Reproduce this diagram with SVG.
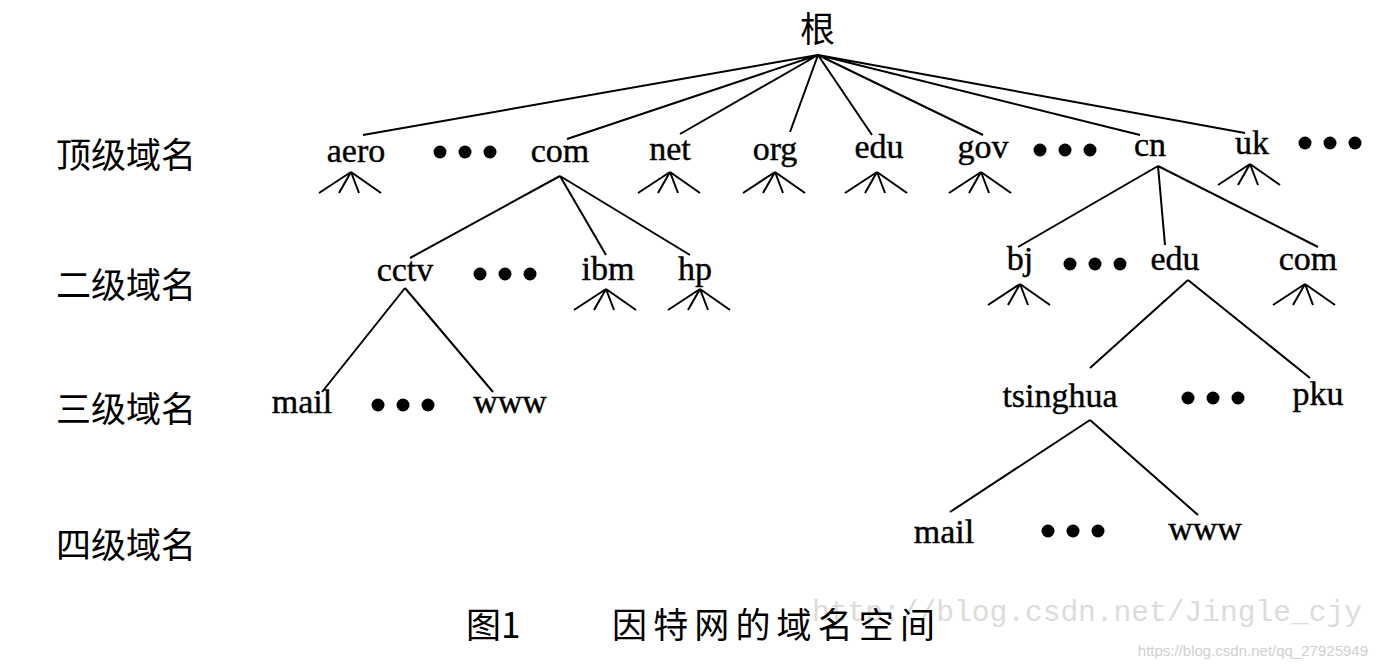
<svg xmlns="http://www.w3.org/2000/svg" width="1378" height="664" viewBox="0 0 1378 664">
<style>
.t{font-family:"Liberation Serif",serif;font-size:34px;fill:#000;text-anchor:middle;stroke:#000;stroke-width:0.4}
.c{font-family:"Noto Sans CJK SC",sans-serif;font-size:35px;fill:#000}
.l{stroke:#000;stroke-width:2;fill:none}
.d{fill:#000}
</style>
<defs>
<g id="fan" class="l"><path d="M0,0L-32,21M0,0L-12,21M0,0L8,21M0,0L30,21"/></g>
<g id="dots" class="d"><circle cx="0" cy="0" r="6.5"/><circle cx="25" cy="0" r="6.5"/><circle cx="50" cy="0" r="6.5"/></g>
</defs>
<rect width="1378" height="664" fill="#fff"/>
<g id="labels">
<text class="c" x="56" y="168">顶级域名</text>
<text class="c" x="56" y="298">二级域名</text>
<text class="c" x="56" y="422">三级域名</text>
<text class="c" x="56" y="558">四级域名</text>
</g>
<g id="connectors" class="l">
<path d="M818,55L363,135M818,55L567,139M818,55L680,134M818,55L790,132M818,55L872,135M818,55L983,135M818,55L1140,135M818,55L1245,133"/>
<path d="M560,176L410,258M560,176L606,255M560,176L690,255"/>
<path d="M405,288L322,392M405,288L493,392"/>
<path d="M1158,166L1018,247M1158,166L1165,245M1158,166L1318,247"/>
<path d="M1188,280L1090,368M1188,280L1310,378"/>
<path d="M1090,420L950,512M1090,420L1198,515"/>
</g>
<g id="fans">
<use href="#fan" x="351" y="172"/>
<use href="#fan" x="670" y="172"/>
<use href="#fan" x="775" y="172"/>
<use href="#fan" x="877" y="172"/>
<use href="#fan" x="981" y="172"/>
<use href="#fan" x="1250" y="164"/>
<use href="#fan" x="606" y="289"/>
<use href="#fan" x="700" y="289"/>
<use href="#fan" x="1020" y="284"/>
<use href="#fan" x="1305" y="284"/>
</g>
<g id="dotgroups">
<use href="#dots" x="440" y="152"/>
<use href="#dots" x="1040" y="150"/>
<use href="#dots" x="1305" y="143"/>
<use href="#dots" x="480" y="274"/>
<use href="#dots" x="1070" y="264"/>
<use href="#dots" x="378" y="405"/>
<use href="#dots" x="1188" y="398"/>
<use href="#dots" x="1048" y="531"/>
</g>
<g id="n-root"><text class="c" x="800" y="42">根</text></g>
<g id="n-aero"><text class="t" x="356" y="162">aero</text></g>
<g id="n-com"><text class="t" x="560" y="162">com</text></g>
<g id="n-net"><text class="t" x="670" y="160">net</text></g>
<g id="n-org"><text class="t" x="775" y="160">org</text></g>
<g id="n-edu"><text class="t" x="879" y="158">edu</text></g>
<g id="n-gov"><text class="t" x="983" y="158">gov</text></g>
<g id="n-cn"><text class="t" x="1150" y="156">cn</text></g>
<g id="n-uk"><text class="t" x="1252" y="154">uk</text></g>
<g id="n-cctv"><text class="t" x="405" y="281">cctv</text></g>
<g id="n-ibm"><text class="t" x="608" y="280">ibm</text></g>
<g id="n-hp"><text class="t" x="695" y="280">hp</text></g>
<g id="n-bj"><text class="t" x="1020" y="270">bj</text></g>
<g id="n-edu2"><text class="t" x="1175" y="270">edu</text></g>
<g id="n-com2"><text class="t" x="1308" y="270">com</text></g>
<g id="n-mail1"><text class="t" x="302" y="413">mail</text></g>
<g id="n-www1"><text class="t" x="510" y="413">www</text></g>
<g id="n-tsinghua"><text class="t" x="1060" y="407">tsinghua</text></g>
<g id="n-pku"><text class="t" x="1318" y="405">pku</text></g>
<g id="n-mail2"><text class="t" x="944" y="543">mail</text></g>
<g id="n-www2"><text class="t" x="1205" y="540">www</text></g>
<g id="caption">
<text font-family="'Liberation Mono',monospace" font-size="29" fill="#dcdcd8" x="812" y="621" textLength="550" lengthAdjust="spacingAndGlyphs">http://blog.csdn.net/Jingle_cjy</text>
<text class="c" font-size="38" x="466" y="638">图1</text>
<text class="c" font-size="38" x="612" y="638" textLength="323">因特网的域名空间</text>
<text font-family="'Liberation Sans',sans-serif" font-size="15" fill="#d0d0d0" x="1368" y="656" text-anchor="end">https://blog.csdn.net/qq_27925949</text>
</g>
</svg>
